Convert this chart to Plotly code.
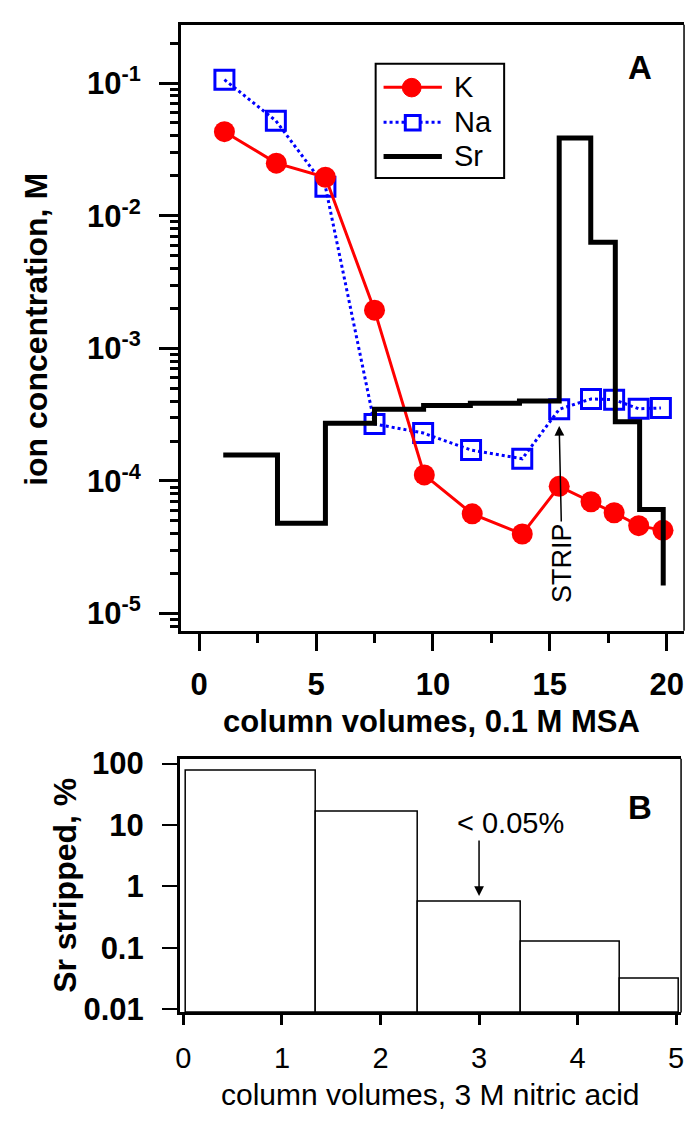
import math
import plotly.graph_objects as go

W, H = 690, 1127

# ---- Panel A data ----
k_x = [1.08, 3.3, 5.4, 7.5, 9.63, 11.68, 13.82, 15.4, 16.76, 17.75, 18.8, 19.84]
k_y = [0.043, 0.0249, 0.0195, 0.00194, 1.11e-4, 5.65e-5, 3.98e-5, 9.1e-5, 6.97e-5, 5.76e-5, 4.6e-5, 4.24e-5]
na_x = [1.08, 3.28, 5.4, 7.5, 9.58, 11.63, 13.82, 15.4, 16.76, 17.75, 18.8, 19.75]
na_y = [0.106, 0.052, 0.0165, 2.69e-4, 2.30e-4, 1.71e-4, 1.47e-4, 3.47e-4, 4.15e-4, 4.1e-4, 3.5e-4, 3.55e-4]
sr_x = [1.03, 3.35, 5.4, 7.5, 9.6, 11.6, 13.7, 15.4, 16.75, 17.8, 18.84, 19.85]
sr_y = [1.57e-4, 4.8e-5, 2.72e-4, 3.47e-4, 3.7e-4, 3.85e-4, 4.0e-4, 3.85e-2, 6.3e-3, 2.8e-4, 6.1e-5, 1.63e-5]
a_yticks = [1e-1, 1e-2, 1e-3, 1e-4, 1e-5]
a_yticktext = ["10<sup>-1</sup>", "10<sup>-2</sup>", "10<sup>-3</sup>", "10<sup>-4</sup>", "10<sup>-5</sup>"]
a_xticks = [0, 5, 10, 15, 20]
a_xminor = [2.5, 7.5, 12.5, 17.5]
a_yminor = [m * d for d in [1e-6, 1e-5, 1e-4, 1e-3, 1e-2, 1e-1] for m in range(2, 10)]
strip_x, strip_y = 15.4, 2.6e-4

# ---- Panel B data ----
b_edges = [0.03, 1.34, 2.385, 3.43, 4.43, 5.03]
b_vals = [78, 16.7, 0.56, 0.128, 0.032]
b_yticks = [100, 10, 1, 0.1, 0.01]
b_yticktext = ["100", "10", "1", "0.1", "0.01"]
b_xticks = [0, 1, 2, 3, 4, 5]
note_x, note_y = 3, 0.7

FONT = "Liberation Sans, Arial, sans-serif"
A_XR = [-0.78, 20.74]
A_YR = [-5.13, -0.56]
B_XR = [-0.035, 5.05]
B_YR = [-2.05, 2.08]
A_BOX = (178, 13, 687, 634)   # left, top, right, bottom in px
B_BOX = (177, 765, 684, 1025)
A_XD = [A_BOX[0] / W, A_BOX[2] / W]
A_YD = [1 - A_BOX[3] / H, 1 - A_BOX[1] / H]
B_XD = [B_BOX[0] / W, B_BOX[2] / W]
B_YD = [1 - B_BOX[3] / H, 1 - B_BOX[1] / H]

fig = go.Figure()

fig.add_trace(go.Scatter(
    x=na_x, y=na_y, name="Na", mode="lines+markers",
    line=dict(color="#0000ff", width=3, dash="dot"),
    marker=dict(symbol="square-open", size=19, color="#0000ff", line=dict(width=3, color="#0000ff")),
    xaxis="x", yaxis="y", showlegend=False))
fig.add_trace(go.Scatter(
    x=k_x, y=k_y, name="K", mode="lines+markers",
    line=dict(color="#ff0000", width=3),
    marker=dict(symbol="circle", size=21, color="#ff0000"),
    xaxis="x", yaxis="y", showlegend=False))
fig.add_trace(go.Scatter(
    x=sr_x, y=sr_y, name="Sr", mode="lines",
    line=dict(color="black", width=5, shape="hv"),
    xaxis="x", yaxis="y", showlegend=False))

# Panel B step bars
b_base = 10 ** B_YR[0]
centers = [(b_edges[i] + b_edges[i + 1]) / 2 for i in range(len(b_vals))]
widths = [b_edges[i + 1] - b_edges[i] for i in range(len(b_vals))]
fig.add_trace(go.Bar(
    x=centers, y=[v - b_base for v in b_vals], base=b_base, width=widths,
    marker=dict(color="white", line=dict(color="black", width=1.5)),
    showlegend=False, xaxis="x2", yaxis="y2"))

base_ax = dict(showgrid=False, zeroline=False, tickcolor="black", linecolor="black")
bold_tf = dict(family=FONT, size=31, color="black")

fig.update_layout(
    width=W, height=H, margin=dict(l=0, r=0, t=0, b=0),
    paper_bgcolor="white", plot_bgcolor="white",
    font=dict(family=FONT, color="black"),
    showlegend=False, bargap=0,
    xaxis=dict(domain=A_XD, range=A_XR, anchor="y", **base_ax,
               showline=True, linewidth=3, mirror=True,
               ticks="outside", ticklen=17, tickwidth=3, ticklabelstandoff=7,
               tickvals=a_xticks, ticktext=[f"<b>{v}</b>" for v in a_xticks], tickfont=bold_tf),
    yaxis=dict(domain=A_YD, type="log", range=A_YR, anchor="x", **base_ax,
               showline=True, linewidth=3,
               ticks="outside", ticklen=19, tickwidth=3, ticklabelstandoff=12,
               tickvals=a_yticks, ticktext=[f"<b>{t}</b>" for t in a_yticktext], tickfont=bold_tf),
    xaxis3=dict(overlaying="x", range=A_XR, anchor="y", side="bottom", **base_ax,
                showline=False, ticks="outside", ticklen=11, tickwidth=3,
                tickvals=a_xminor, showticklabels=False),
    yaxis3=dict(overlaying="y", type="log", range=A_YR, anchor="x", side="left", **base_ax,
                showline=False, ticks="outside", ticklen=10, tickwidth=3,
                tickvals=a_yminor, showticklabels=False),
    xaxis2=dict(domain=B_XD, range=B_XR, anchor="y2", **base_ax,
                showline=True, linewidth=3, mirror=True,
                ticks="outside", ticklen=10, tickwidth=3, ticklabelstandoff=8,
                tickvals=b_xticks, ticktext=[str(v) for v in b_xticks],
                tickfont=dict(family=FONT, size=29, color="black")),
    yaxis2=dict(domain=B_YD, type="log", range=B_YR, anchor="x2", **base_ax,
                showline=True, linewidth=3,
                ticks="outside", ticklen=15, tickwidth=2, ticklabelstandoff=12,
                tickvals=b_yticks, ticktext=[f"<b>{t}</b>" for t in b_yticktext], tickfont=bold_tf),
)

# invisible trace so the minor-tick overlay axes are active
fig.add_trace(go.Scatter(x=[None], y=[None], xaxis="x3", yaxis="y3", showlegend=False))

def P(px, py):
    return px / W, 1 - py / H

def pshape(kind, x0, y0, x1, y1, **kw):
    a0, b0 = P(x0, y0)
    a1, b1 = P(x1, y1)
    fig.add_shape(type=kind, xref="paper", yref="paper", x0=a0, y0=b0, x1=a1, y1=b1, **kw)

# thin right-hand frame lines
for l, t, r, b in (A_BOX, B_BOX):
    pshape("line", r, t, r, b, line=dict(color="black", width=1.5), layer="above")

def pann(text, px, py, size, bold=False, angle=0, xanchor="center"):
    x, y = P(px, py)
    fig.add_annotation(text=f"<b>{text}</b>" if bold else text, x=x, y=y,
                       xref="paper", yref="paper", showarrow=False, textangle=angle,
                       xanchor=xanchor, yanchor="middle",
                       font=dict(family=FONT, size=size, color="black"))

pann("A", 642, 57, 33, bold=True)
pann("B", 642, 815, 33, bold=True)
pann("column volumes, 0.1 M MSA", 432, 727, 31, bold=True)
pann("ion concentration, M", 32, 325, 32, bold=True, angle=-90)
pann("Sr stripped, %", 60, 895, 32, bold=True, angle=-90)
pann("column volumes, 3 M nitric acid", 430, 1109, 30)
pann("< 0.05%", 511, 831, 29)

# legend (box, keys, labels)
pshape("rect", 375, 53, 505, 170, line=dict(color="black", width=2), fillcolor="white", layer="above")
legend_rows = [("K", 77), ("Na", 113), ("Sr", 148)]
pshape("line", 383, 77, 442, 77, line=dict(color="#ff0000", width=3), layer="above")
pshape("circle", 402, 68, 421, 87, line=dict(color="#ff0000", width=1), fillcolor="#ff0000", layer="above")
pshape("line", 383, 113, 442, 113, line=dict(color="#0000ff", width=3, dash="dot"), layer="above")
pshape("rect", 405, 106, 420, 121, line=dict(color="#0000ff", width=3), fillcolor="white", layer="above")
pshape("line", 383, 148, 442, 148, line=dict(color="black", width=5), layer="above")
for name, py in legend_rows:
    pann(name, 452, py, 29, xanchor="left")

# STRIP arrow (log axes take log10 positions for annotations)
fig.add_annotation(x=strip_x, y=math.log10(strip_y), xref="x", yref="y", text="STRIP", textangle=-90,
                   showarrow=True, ax=3, ay=137, arrowhead=2, arrowsize=1.3, arrowwidth=1.5,
                   arrowcolor="black", standoff=0,
                   font=dict(family=FONT, size=27, color="black"))
# < 0.05% arrow
fig.add_annotation(x=note_x, y=math.log10(note_y), xref="x2", yref="y2", text="", showarrow=True,
                   ax=0, ay=-57, arrowhead=2, arrowsize=1.3, arrowwidth=1.5, arrowcolor="black")

fig.write_html("out.html")
